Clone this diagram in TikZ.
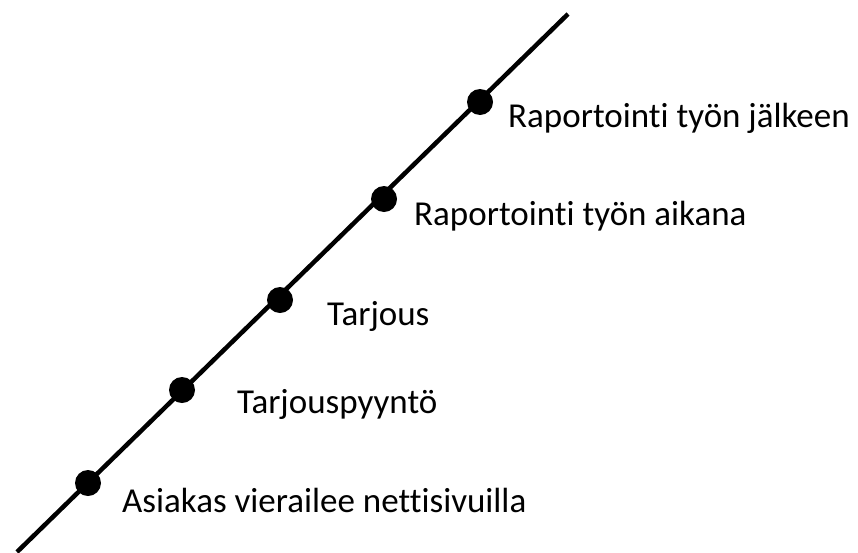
\documentclass[tikz,border=0pt]{standalone}
\usepackage{fontspec}
\setmainfont[Ligatures={NoCommon}]{Carlito}
\begin{document}
\begin{tikzpicture}[x=1pt,y=-1pt,
  dotmark/.style={circle,fill=black,inner sep=0pt,minimum size=26pt},
  lbl/.style={anchor=base west,inner sep=0pt,font=\fontsize{35}{42}\selectfont}]
\useasboundingbox (0,0) rectangle (858,552);
\coordinate (lo) at (17,552);
\coordinate (hi) at (568,14);
\draw[line width=4.5pt] (lo) -- (hi);
\node[dotmark] (d1) at (88,483) {};
\node[dotmark] (d2) at (182,390) {};
\node[dotmark] (d3) at (280,300) {};
\node[dotmark] (d4) at (384,199) {};
\node[dotmark] (d5) at (480,102) {};
\node[lbl] (t1) at (122,512) {Asiakas vierailee nettisivuilla};
\node[lbl] (t2) at (237,413) {Tarjouspyyntö};
\node[lbl] (t3) at (327,325) {Tarjous};
\node[lbl] (t4) at (414,225) {Raportointi työn aikana};
\node[lbl] (t5) at (508,127) {Raportointi työn jälkeen};
\end{tikzpicture}
\end{document}
